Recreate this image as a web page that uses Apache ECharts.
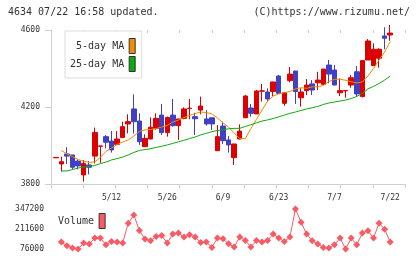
<!DOCTYPE html>
<html style="height: 100%">
<head>
    <meta charset="utf-8">
    <title>4634</title>
</head>
<body style="height: 100%; margin: 0; background: #fff">
<div id="container" style="width: 420px; height: 259px"></div>
<script type="text/javascript" src="https://cdn.jsdelivr.net/npm/echarts@6/dist/echarts.min.js"></script>
<script type="text/javascript">
    var dates = ['4/23','4/24','4/25','4/28','4/30','5/1','5/2','5/7','5/8','5/9',
        '5/12','5/13','5/14','5/15','5/16','5/19','5/20','5/21','5/22','5/23',
        '5/26','5/27','5/28','5/29','5/30','6/2','6/3','6/4','6/5','6/6',
        '6/9','6/10','6/11','6/12','6/13','6/16','6/17','6/18','6/19','6/20',
        '6/23','6/24','6/25','6/26','6/27','6/30','7/1','7/2','7/3','7/4',
        '7/7','7/8','7/9','7/10','7/11','7/14','7/15','7/16','7/17','7/18','7/22'];
    var shownDates = ['5/12', '5/26', '6/9', '6/23', '7/7', '7/22'];

    var open  = [3936,3904,3956,3951,3919,3847,3899,3945,3996,4046,4023,4006,4041,4112,4190,4127,3994,4034,4089,4158,
                 4067,4158,4103,4141,4192,4150,4184,4138,4144,3973,4101,4029,3937,4034,4144,4195,4164,4282,4278,4280,
                 4361,4219,4337,4387,4248,4285,4320,4326,4318,4418,4392,4274,4284,4314,4383,4254,4444,4415,4453,4569,4574];
    var close = [3938,3916,3945,3887,3894,3907,3887,4067,3998,4017,3977,4034,4098,4124,4124,4020,4037,4095,4141,4067,
                 4146,4103,4138,4190,4194,4139,4205,4112,4112,4046,4025,4003,4008,4075,4257,4167,4283,4284,4242,4330,
                 4271,4274,4371,4280,4278,4314,4288,4340,4397,4371,4314,4285,4286,4352,4268,4441,4543,4500,4500,4557,4584];
    var low   = [3936,3864,3904,3876,3876,3812,3850,3907,3910,3985,3963,4003,4041,4063,4063,4003,3994,4032,4081,4055,
                 4046,4098,4029,4136,4136,4055,4162,4103,4081,3973,4008,3963,3899,4032,4144,4150,4164,4228,4228,4257,
                 4268,4207,4328,4216,4202,4262,4262,4288,4314,4323,4314,4257,4248,4300,4254,4250,4444,4415,4404,4500,4544];
    var high  = [3938,3942,3991,3951,3928,3925,3919,4093,3998,4055,4075,4075,4124,4162,4266,4167,4058,4146,4167,4216,
                 4150,4242,4138,4198,4242,4170,4254,4184,4144,4107,4124,4049,4008,4110,4262,4216,4288,4320,4297,4331,
                 4366,4274,4408,4387,4297,4345,4340,4383,4397,4444,4418,4349,4288,4366,4413,4441,4553,4531,4505,4614,4626];

    var ma5 = ['-',3974,3956,3943,3927,3919,3912,3914,3938,3969,3987,4005,4018,4029,4049,4073,4081,4083,4088,4096,
               4104,4122,4132,4145,4156,4166,4174,4171,4164,4143,4117,4096,4065,4036,4035,4088,4135,4184,4231,4257,
               4268,4275,4280,4294,4300,4297,4305,4305,4312,4332,4344,4344,4339,4331,4325,4330,4361,4400,4444,4486,4540];
    var ma25 = ['-',3868,3868,3875,3883,3888,3891,3896,3906,3914,3925,3932,3940,3951,3964,3974,3979,3983,3990,3996,
                4003,4011,4019,4027,4036,4044,4055,4063,4072,4078,4082,4087,4089,4089,4099,4108,4118,4127,4133,4140,
                4149,4158,4167,4174,4182,4190,4196,4203,4213,4221,4226,4231,4236,4244,4255,4270,4294,4307,4322,4340,4361];
    var volume = ['-',123000,98200,82700,76000,116400,109600,150000,150000,105000,127000,123000,116400,251000,307000,
                  201000,143300,131900,160800,167500,116400,177000,183700,156800,172200,156800,120400,123000,86800,150000,
                  145300,111000,89500,156800,133900,89500,133900,123000,133900,177000,150000,127100,156800,347200,257700,
                  177000,131900,109600,86800,82700,104900,150000,76000,150000,104900,183700,199200,150000,251000,210600,123000];

    var priceTicks = [3800, 4200, 4600];
    var volumeTicks = [76000, 211600, 347200];

    var candles = [];
    for (var i = 0; i < dates.length; i++) {
        candles.push([open[i], close[i], low[i], high[i]]);
    }

    var mono = 'DejaVu Sans Mono';
    var frameColor = '#d0d0d0';
    var dom = document.getElementById("container");
    var myChart = echarts.init(dom);
    var option = null;

    option = {
        animation: false,
        backgroundColor: '#fff',
        textStyle: { fontFamily: mono },
        title: [{
            text: '4634 07/22 16:58 updated.',
            left: 8, top: 7, padding: 0,
            textStyle: { fontFamily: mono, fontSize: 10, fontWeight: 'normal', color: '#333' }
        }, {
            text: '(C)https://www.rizumu.net/',
            right: 10, top: 7, padding: 0,
            textStyle: { fontFamily: mono, fontSize: 10, fontWeight: 'normal', color: '#333' }
        }],
        legend: [{
            data: [
                { name: '5-day MA', itemStyle: { color: '#f08c00', borderColor: '#333', borderWidth: 1 } },
                { name: '25-day MA', itemStyle: { color: '#10a810', borderColor: '#333', borderWidth: 1 } }
            ],
            formatter: function (name) { return name.padStart(9); },
            orient: 'vertical', align: 'right',
            left: 65, top: 31,
            padding: [7, 6, 6, 5],
            itemGap: 2, itemWidth: 6, itemHeight: 15,
            icon: 'rect',
            selectedMode: false,
            backgroundColor: '#fff', borderColor: '#ddd', borderWidth: 1,
            textStyle: { fontFamily: mono, fontSize: 10, color: '#333' }
        }, {
            data: [{ name: 'Volume', itemStyle: { color: '#fa5a64', borderColor: '#333', borderWidth: 1 } }],
            align: 'right',
            left: 58, top: 213, padding: 0,
            itemWidth: 6, itemHeight: 15,
            icon: 'rect',
            selectedMode: false,
            textStyle: { fontFamily: mono, fontSize: 10, color: '#333' }
        }],
        grid: [
            { left: 51, right: 15, top: 30, height: 154 },
            { left: 53, width: 340, top: 30, height: 154 },
            { left: 53, width: 340, top: 209, height: 40 }
        ],
        xAxis: [{
            gridIndex: 0, type: 'value', min: 0, max: 11, interval: 1,
            axisLine: { lineStyle: { color: frameColor } },
            axisTick: { length: 4, lineStyle: { color: frameColor } },
            axisLabel: { show: false }, splitLine: { show: false }
        }, {
            gridIndex: 0, type: 'value', min: 0, max: 11, interval: 1,
            axisLine: { show: false },
            axisTick: { inside: true, length: 3, lineStyle: { color: frameColor } },
            axisLabel: { show: false }, splitLine: { show: false }
        }, {
            gridIndex: 1, type: 'category', data: dates, boundaryGap: true,
            axisLine: { show: false }, axisTick: { show: false },
            axisLabel: {
                interval: function (idx, val) { return shownDates.indexOf(val) >= 0; },
                margin: 10, fontFamily: mono, fontSize: 8, color: '#333'
            }
        }, {
            gridIndex: 2, type: 'category', data: dates, boundaryGap: true, show: false
        }],
        yAxis: [{
            gridIndex: 0, type: 'value', min: priceTicks[0], max: priceTicks[2], interval: priceTicks[1] - priceTicks[0],
            axisLine: { show: true, lineStyle: { color: frameColor } },
            axisTick: { show: true, length: 6, lineStyle: { color: frameColor } },
            axisLabel: { margin: 11, fontFamily: mono, fontSize: 8, color: '#333', formatter: function (v) { return String(v); } },
            splitLine: { show: false }
        }, {
            gridIndex: 0, type: 'value', min: priceTicks[0], max: priceTicks[2], interval: priceTicks[1] - priceTicks[0],
            axisLine: { show: false },
            axisTick: { show: true, inside: true, length: 2, lineStyle: { color: frameColor } },
            axisLabel: { show: false }, splitLine: { show: false }
        }, {
            gridIndex: 1, type: 'value', min: priceTicks[0], max: priceTicks[2], show: false
        }, {
            gridIndex: 2, type: 'value', min: volumeTicks[0], max: volumeTicks[2], interval: volumeTicks[1] - volumeTicks[0],
            axisLine: { show: false }, axisTick: { show: false },
            axisLabel: { margin: 9, fontFamily: mono, fontSize: 8, color: '#333', formatter: function (v) { return String(v); } },
            splitLine: { show: false }
        }],
        series: [{
            name: 'price',
            type: 'candlestick',
            xAxisIndex: 2, yAxisIndex: 2,
            barWidth: 5,
            itemStyle: { color: '#dc0000', color0: '#4040c4', borderColor: '#dc0000', borderColor0: '#4040c4', borderWidth: 1 },
            data: candles
        }, {
            name: '5-day MA',
            type: 'line',
            xAxisIndex: 2, yAxisIndex: 2,
            symbol: 'none',
            color: '#f08c00',
            lineStyle: { width: 1, color: '#f08c00' },
            data: ma5
        }, {
            name: '25-day MA',
            type: 'line',
            xAxisIndex: 2, yAxisIndex: 2,
            symbol: 'none',
            color: '#10a810',
            lineStyle: { width: 1, color: '#10a810' },
            data: ma25
        }, {
            name: 'Volume',
            type: 'line',
            xAxisIndex: 3, yAxisIndex: 3,
            symbol: 'diamond', symbolSize: 7,
            showSymbol: true, showAllSymbol: true,
            color: '#fa5a64',
            lineStyle: { width: 1, color: '#fa5a64' },
            itemStyle: { color: '#fa5a64' },
            data: volume
        }]
    };

    if (option && typeof option === "object") {
        myChart.setOption(option, true);
    }
</script>
</body>
</html>
